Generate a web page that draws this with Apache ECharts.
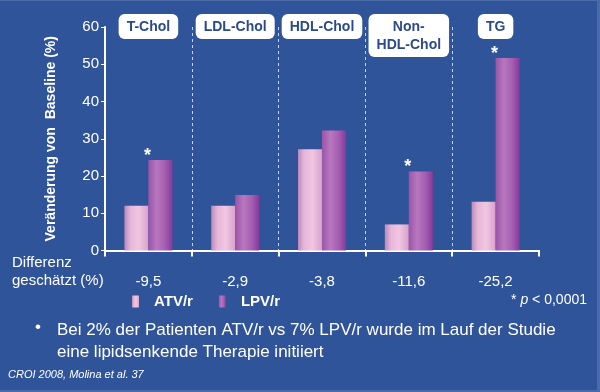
<!DOCTYPE html>
<html>
<head>
<meta charset="utf-8">
<script src="https://cdn.jsdelivr.net/npm/echarts@6/dist/echarts.min.js"></script>
<style>
html,body{margin:0;padding:0;background:#30549a;}
#c{width:600px;height:392px;}
</style>
</head>
<body>
<div id="c"></div>
<script>
const categories = ['T-Chol', 'LDL-Chol', 'HDL-Chol', 'Non-\nHDL-Chol', 'TG'];
const atvValues = [12.0, 12.0, 27.2, 7.0, 13.1];
const lpvValues = [24.3, 14.9, 32.2, 21.2, 51.7];
const significant = [true, false, false, true, true];
const diffLabels = ['-9,5', '-2,9', '-3,8', '-11,6', '-25,2'];
const yTicks = [0, 10, 20, 30, 40, 50, 60];

const FONT = '"Liberation Sans", Arial, sans-serif';
const BG = '#30549a';

const atvColor = new echarts.graphic.LinearGradient(0, 0, 1, 0, [
  {offset: 0, color: '#b98ab8'},
  {offset: 0.25, color: '#e6b6d8'},
  {offset: 0.6, color: '#f2c6e2'},
  {offset: 1, color: '#d6a2cc'}
]);
const lpvColor = new echarts.graphic.LinearGradient(0, 0, 1, 0, [
  {offset: 0, color: '#9a55a8'},
  {offset: 0.35, color: '#b877bf'},
  {offset: 0.7, color: '#a45eb0'},
  {offset: 1, color: '#86399a'}
]);

const chart = echarts.init(document.getElementById('c'), null, {renderer: 'canvas'});

const lpvData = lpvValues.map((v, i) => significant[i]
  ? {value: v, label: {show: true}}
  : v);

chart.setOption({
  backgroundColor: BG,
  animation: false,
  textStyle: {fontFamily: FONT},
  grid: {left: 105, right: 61, top: 27, bottom: 141.5, containLabel: false},
  legend: {
    left: 127, top: 289,
    icon: 'rect', itemWidth: 7, itemHeight: 12, itemGap: 26,
    textStyle: {color: '#fff', fontSize: 15, fontWeight: 'bold', fontFamily: FONT,
      padding: [0, 0, 0, 10]},
    data: ['ATV/r', 'LPV/r']
  },
  xAxis: [
    {
      type: 'category',
      data: diffLabels,
      position: 'bottom',
      axisLine: {lineStyle: {color: '#fff', width: 2}},
      axisTick: {show: true, length: 6, lineStyle: {color: '#fff', width: 2}},
      axisLabel: {color: '#fff', fontSize: 15, margin: 24, fontFamily: FONT},
      splitLine: {
        show: true, showMinLine: false, showMaxLine: false,
        lineStyle: {color: 'rgba(225,232,250,0.85)', type: [3, 3], width: 1}
      }
    },
    {
      type: 'category',
      data: categories,
      position: 'top',
      axisLine: {show: false},
      axisTick: {show: false},
      splitLine: {show: false},
      axisLabel: {
        color: '#2b4a8c', fontSize: 14, fontWeight: 'bold', fontFamily: FONT,
        backgroundColor: '#fff', borderRadius: 6, padding: [4, 8, 3, 8],
        lineHeight: 18, align: 'center', verticalAlign: 'top', margin: 13
      }
    }
  ],
  yAxis: {
    type: 'value', min: 0, max: 60, interval: 10,
    name: 'Veränderung von  Baseline (%)',
    nameLocation: 'middle', nameGap: 47, nameRotate: 90,
    nameTextStyle: {color: '#fff', fontSize: 14, fontWeight: 'bold', fontFamily: FONT},
    axisLine: {show: true, lineStyle: {color: '#fff', width: 2}},
    axisTick: {show: true, length: 4, lineStyle: {color: '#fff', width: 1}},
    axisLabel: {color: '#fff', fontSize: 15, margin: 6, fontFamily: FONT,
      formatter: v => yTicks.includes(v) ? String(v) : ''},
    splitLine: {show: false}
  },
  series: [
    {
      name: 'ATV/r', type: 'bar', data: atvValues, xAxisIndex: 0,
      barWidth: 24, barGap: '0%',
      itemStyle: {color: atvColor}
    },
    {
      name: 'LPV/r', type: 'bar', data: lpvData, xAxisIndex: 0,
      barWidth: 24, barGap: '0%',
      itemStyle: {color: lpvColor},
      label: {show: false, position: 'top', formatter: '*', color: '#fff',
        fontSize: 18, fontWeight: 'bold', distance: 0, offset: [-13, 5]}
    }
  ],
  graphic: [
    {type: 'text', left: 12, top: 254, style: {text: 'Differenz\ngeschätzt (%)', fill: '#fff',
      font: '15px ' + FONT, lineHeight: 18}},
    {type: 'text', right: 13, top: 293, style: {
      text: '* {i|p} < 0,0001', fill: '#fff', font: '14px ' + FONT,
      rich: {i: {fontStyle: 'italic', fontSize: 14, fill: '#fff', fontFamily: FONT}}}},
    {type: 'text', left: 35, top: 319, style: {text: '•', fill: '#fff', font: '17px ' + FONT}},
    {type: 'text', left: 57, top: 319, style: {
      text: 'Bei 2% der Patienten ATV/r vs 7% LPV/r wurde im Lauf der Studie\neine lipidsenkende Therapie initiiert',
      fill: '#fff', font: '17px ' + FONT, lineHeight: 22}},
    {type: 'text', left: 8, top: 369, style: {text: 'CROI 2008, Molina et al. 37', fill: '#fff',
      font: 'italic 11px ' + FONT}},
    {type: 'line', shape: {x1: 0, y1: 0.5, x2: 600, y2: 0.5}, style: {stroke: '#4c6aa8', lineWidth: 1}},
    {type: 'line', shape: {x1: 598.5, y1: 0, x2: 598.5, y2: 392}, style: {stroke: '#4c6aa8', lineWidth: 3}},
    {type: 'line', shape: {x1: 0, y1: 391, x2: 600, y2: 391}, style: {stroke: '#4c6aa8', lineWidth: 2}}
  ]
});
</script>
</body>
</html>
